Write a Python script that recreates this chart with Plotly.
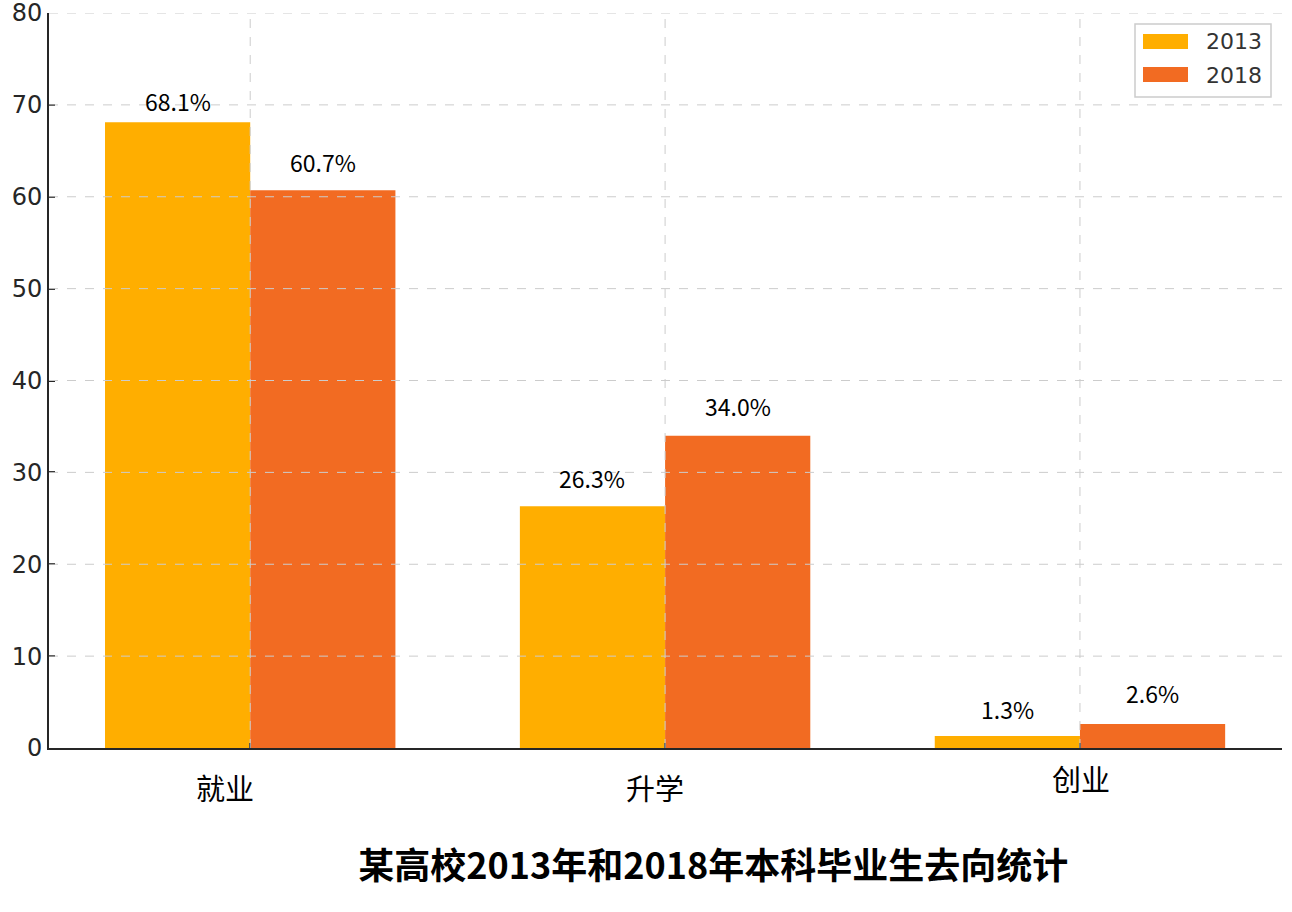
import plotly.graph_objects as go

categories = ["就业", "升学", "创业"]
years = ["2013", "2018"]
values_2013 = [68.1, 26.3, 1.3]
values_2018 = [60.7, 34.0, 2.6]
y_ticks = [0, 10, 20, 30, 40, 50, 60, 70, 80]
title_text = "某高校2013年和2018年本科毕业生去向统计"

colors = ["#FFAE00", "#F26B22"]
series = [values_2013, values_2018]
x_idx = list(range(len(categories)))

W, H = 1292, 912
ML, MR, MT, MB = 49, 10, 13, 164
PW, PH = W - ML - MR, H - MT - MB


def px(x):
    return (x - ML) / PW


def py(y):
    return (H - MB - y) / PH


fig = go.Figure()
for name, vals, col in zip(years, series, colors):
    fig.add_trace(go.Bar(
        x=x_idx, y=vals, name=name, marker=dict(color=col, line=dict(width=0)),
        showlegend=False,
    ))

# value labels
bar_w = 0.35
value_label_shift = [[21, 28, 27], [28, 30, 31]]
for k, vals in enumerate(series):
    off = -bar_w / 2 if k == 0 else bar_w / 2
    for i, v in enumerate(vals):
        fig.add_annotation(x=i + off, y=v, text=f"{v:.1f}%", showarrow=False,
                           yshift=value_label_shift[k][i],
                           font=dict(family="Noto Sans CJK SC", size=23, color="#000000"))

# category labels (offset as in reference)
label_xshift = [-25, -10, 1]
label_yshift = [-39, -39, -30]
for i, c in enumerate(categories):
    fig.add_annotation(x=i, y=0, text=c, showarrow=False, xshift=label_xshift[i], yshift=label_yshift[i],
                       font=dict(family="Noto Sans CJK SC", size=29, color="#000000"))

# gridlines above bars
grid_style = dict(color="#CCCCCC", width=1, dash="dash")
for t in y_ticks[1:]:
    fig.add_shape(type="line", xref="paper", yref="y", x0=0, x1=1, y0=t, y1=t,
                  line=grid_style, layer="above")
for i in x_idx:
    fig.add_shape(type="line", xref="x", yref="paper", x0=i, x1=i, y0=0, y1=1,
                  line=grid_style, layer="above")

# custom legend (matplotlib style)
fig.add_shape(type="rect", xref="paper", yref="paper", x0=px(1135), x1=px(1271), y0=py(97), y1=py(24),
              line=dict(color="#CCCCCC", width=1.5), fillcolor="rgba(255,255,255,0.9)", layer="above")
for k, (name, col) in enumerate(zip(years, colors)):
    yc = 42 + k * 33
    fig.add_shape(type="rect", xref="paper", yref="paper", x0=px(1143), x1=px(1188),
                  y0=py(yc + 7), y1=py(yc - 8), line=dict(width=0), fillcolor=col, layer="above")
    fig.add_annotation(xref="paper", yref="paper", x=px(1204), y=py(yc), text=name, showarrow=False,
                       xanchor="left", yanchor="middle",
                       font=dict(family="DejaVu Sans", size=22, color="#333333"))

fig.update_layout(
    width=W, height=H,
    margin=dict(l=ML, r=MR, t=MT, b=MB, autoexpand=False),
    paper_bgcolor="white", plot_bgcolor="white",
    barmode="group", bargap=0.3, bargroupgap=0,
    showlegend=False,
    title=dict(text=f"<b>{title_text}</b>", x=0.552, xref="container", xanchor="center",
               y=1 - 866 / 912, yref="container", yanchor="middle",
               font=dict(family="Noto Sans CJK SC", size=36, color="#000000")),
    xaxis=dict(range=[-0.485, 2.487], tickvals=x_idx, ticktext=["", "", ""],
               showgrid=False, zeroline=False, showline=True, linecolor="#262626", linewidth=2,
               ticks="inside", ticklen=5, tickcolor="#262626", tickwidth=1.5, layer="above traces",
               automargin=False),
    yaxis=dict(range=[0, 80], tickvals=y_ticks, showgrid=False, zeroline=False,
               showline=True, linecolor="#262626", linewidth=2,
               ticks="inside", ticklen=6, tickcolor="#262626", tickwidth=1.5,
               tickfont=dict(family="DejaVu Sans", size=24, color="#262626"),
               ticklabeloverflow="allow",
               layer="above traces", automargin=False),
)

fig.write_html("out.html")
